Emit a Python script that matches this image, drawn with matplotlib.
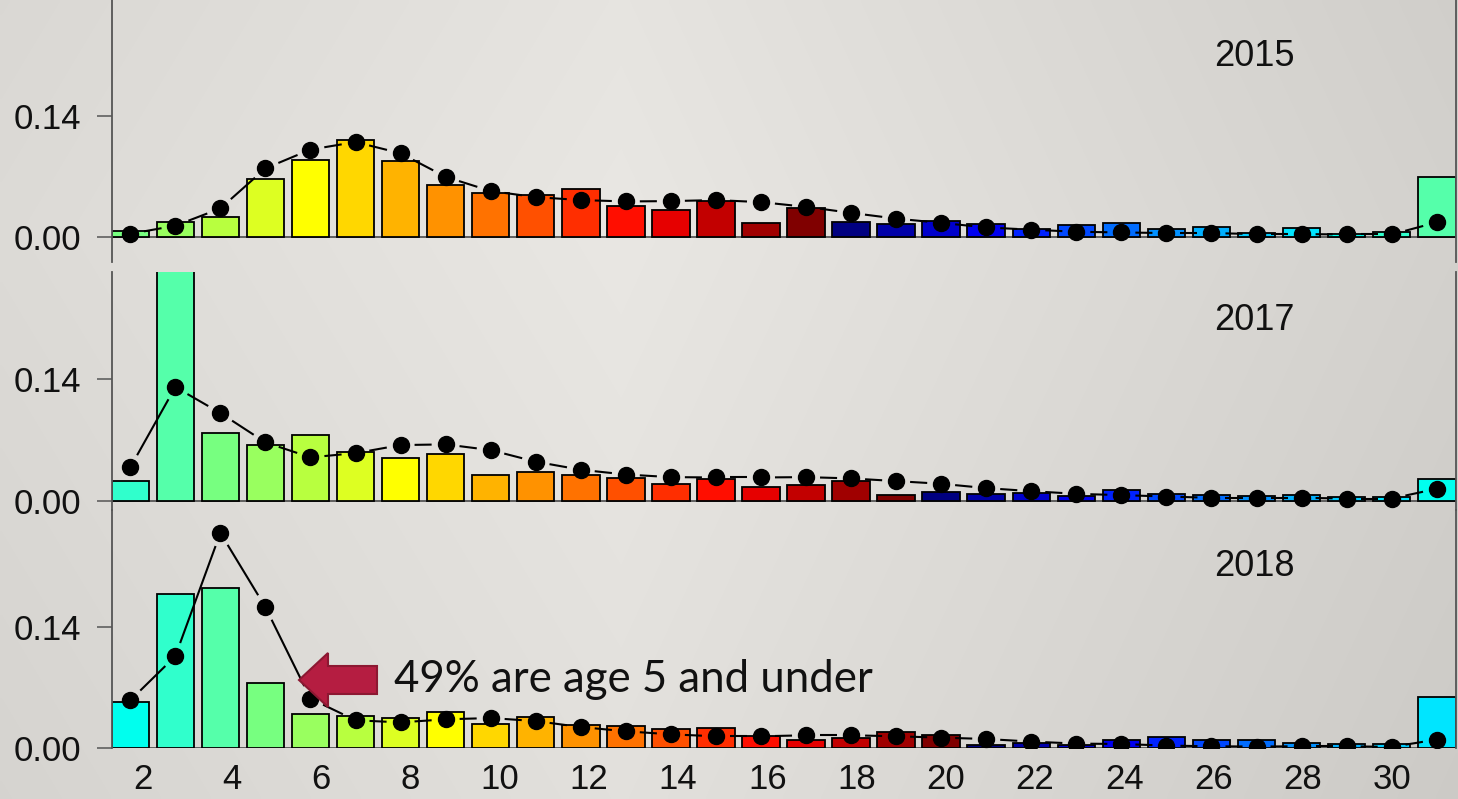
import numpy as np
import matplotlib
matplotlib.use("Agg")
import matplotlib.pyplot as plt
from matplotlib.patches import Polygon

# ---------------- data ----------------
ages = list(range(2, 32))
tick_ages = list(range(2, 31, 2))
years = [2015, 2017, 2018]

bars_2015 = [0.0068, 0.0177, 0.0236, 0.067, 0.089, 0.1126, 0.0877, 0.0605, 0.0515, 0.049,
             0.056, 0.0364, 0.0317, 0.0418, 0.0166, 0.034, 0.0173, 0.0158, 0.0184, 0.0158,
             0.0096, 0.0142, 0.0166, 0.0096, 0.0114, 0.005, 0.0103, 0.0033, 0.0056, 0.0698]
points_2015 = [0.004, 0.0134, 0.0333, 0.0796, 0.1013, 0.110, 0.097, 0.0698, 0.0534, 0.0464,
               0.043, 0.0414, 0.0418, 0.043, 0.0406, 0.0352, 0.0282, 0.0216, 0.0166, 0.0114,
               0.0088, 0.0064, 0.0056, 0.0049, 0.0049, 0.0037, 0.0037, 0.0033, 0.0033, 0.0173]

bars_2017 = [0.0228, 0.30, 0.0779, 0.064, 0.0752, 0.0556, 0.0494, 0.0532, 0.030, 0.0332,
             0.0297, 0.0263, 0.0185, 0.0247, 0.016, 0.0174, 0.0228, 0.0069, 0.010, 0.0077,
             0.0089, 0.005, 0.012, 0.0077, 0.0058, 0.005, 0.0058, 0.0039, 0.0039, 0.0251]
points_2017 = [0.0382, 0.131, 0.101, 0.0671, 0.0498, 0.0547, 0.064, 0.0648, 0.0582, 0.0448,
               0.0355, 0.030, 0.027, 0.0266, 0.0266, 0.027, 0.0255, 0.0224, 0.0193, 0.0143,
               0.0108, 0.0077, 0.0062, 0.0046, 0.0031, 0.0031, 0.0031, 0.0023, 0.0023, 0.0135]

bars_2018 = [0.0527, 0.1776, 0.1842, 0.0754, 0.0392, 0.0369, 0.0346, 0.0412, 0.0273, 0.0354,
             0.027, 0.025, 0.0216, 0.0235, 0.0135, 0.0089, 0.0112, 0.0189, 0.0147, 0.0035,
             0.0058, 0.0039, 0.0092, 0.0127, 0.0097, 0.0097, 0.0058, 0.0046, 0.005, 0.0593]
points_2018 = [0.055, 0.106, 0.2484, 0.1626, 0.057, 0.032, 0.0296, 0.0331, 0.0346, 0.0311,
               0.0242, 0.0193, 0.0158, 0.0135, 0.0135, 0.0147, 0.0147, 0.0135, 0.012, 0.0104,
               0.0074, 0.0051, 0.0046, 0.0028, 0.002, 0.0017, 0.002, 0.002, 0.0013, 0.0097]

yticks = [0.0, 0.14]
ytick_labels = ["0.00", "0.14"]
annotation = "49% are age 5 and under"

# cohort colour cycle (index 0 = cohort 2017, going back one year per entry)
cohort_colors = ["#00E5FF", "#00FFEE", "#30FFCC", "#55FFAA", "#77FF80", "#99FF5F",
                 "#B8FF3F", "#DDFF22", "#FFFF00", "#FFD700", "#FFB300", "#FF9200",
                 "#FF7200", "#FF5000", "#FF2E00", "#FF0E00", "#E60000", "#C20000",
                 "#A00000", "#800000", "#000080", "#0000A8", "#0000CC", "#0000F0",
                 "#0022FF", "#0048FF", "#006CFF", "#0090FF", "#00B0FF", "#00CCFF"]

series = [(bars_2015, points_2015), (bars_2017, points_2017), (bars_2018, points_2018)]

# ---------------- layout ----------------
W, H = 1458, 799
fig = plt.figure(figsize=(W / 100, H / 100), dpi=100)

# background gradient
gy, gx = np.mgrid[0:H:4, 0:W:4]
cx, cy = 620, 230
dx = gx - cx
dark = np.where(dx > 0, 0.026 * dx, 0.020 * (-dx)) + 0.012 * np.abs(gy - cy)
base = np.array([233, 231, 227], dtype=float)
img = np.clip((base[None, None, :] - dark[..., None]) / 255.0, 0, 1)
bg = fig.add_axes([0, 0, 1, 1], zorder=-10)
bg.imshow(img, extent=[0, 1, 0, 1], aspect="auto", interpolation="bilinear")
bg.axis("off")

left_px, right_px = 111.5, 1455.5
bar_w = 1 / 1.2
xlim = (2 - bar_w / 2, 31 + bar_w / 2)
px_per_unit = 866.0
# (top px, bottom px, zero px)
panels = [(0.0, 262.0, 237.3), (271.7, 510.0, 500.5), (510.0, 748.0, 748.0)]
year_label_baseline = [65.5, 329.5, 575.7]

SPINE = "#555555"
tick_font = ["Liberation Sans", "DejaVu Sans"]

for i, ((top, bot, zero), (bars, pts), yr) in enumerate(zip(panels, series, years)):
    ax = fig.add_axes([left_px / W, 1 - bot / H, (right_px - left_px) / W, (bot - top) / H])
    ax.set_facecolor("none")
    ax.set_xlim(*xlim)
    ax.set_ylim(-(bot - zero) / px_per_unit, (zero - top) / px_per_unit)

    colors = [cohort_colors[(2017 - (yr - a)) % 30] for a in ages]
    ax.bar(ages, bars, width=bar_w, color=colors, edgecolor="black", linewidth=1.3, zorder=2)

    # type="b" style: segments trimmed around the points
    disp = ax.transData.transform(np.column_stack([ages, pts]))
    inv = ax.transData.inverted()
    gap = 14.0
    for p0, p1 in zip(disp[:-1], disp[1:]):
        d = p1 - p0
        L = np.hypot(*d)
        if L > 2 * gap:
            u = d / L
            q = inv.transform(np.array([p0 + u * gap, p1 - u * gap]))
            ax.plot(q[:, 0], q[:, 1], color="black", lw=1.5, zorder=3, solid_capstyle="butt")
    ax.plot(ages, pts, linestyle="none", marker="o", markersize=11.5, color="black", zorder=4)

    ax.axhline(0, color=SPINE, lw=1.3, zorder=1.5)

    for s in ["top", "bottom"]:
        ax.spines[s].set_visible(False)
    for s in ["left", "right"]:
        ax.spines[s].set_color(SPINE)
        ax.spines[s].set_linewidth(1.3)

    ax.set_yticks(yticks)
    ax.set_yticklabels(ytick_labels, fontfamily=tick_font)
    ax.tick_params(axis="y", direction="out", length=10.5, width=1.1, color=SPINE,
                   labelsize=25, pad=11.5, labelcolor="#111111")
    if i == 2:
        tick_pos = [2.282 + (a - 2) * (1 - 0.282 / 28) for a in tick_ages]
        ax.set_xticks(tick_pos)
        ax.set_xticklabels([str(a) for a in tick_ages], fontfamily=tick_font)
        ax.tick_params(axis="x", length=0, labelsize=25, pad=10.5, labelcolor="#111111")
    else:
        ax.set_xticks([])

    fig.text(1254 / W, 1 - year_label_baseline[i] / H, str(yr), ha="center", va="baseline",
             fontsize=26, family=tick_font, color="#111111")

# annotation arrow (pixel geometry -> figure fraction)
arrow_px = [(299, 680), (328, 653), (328, 666), (377, 666), (377, 694), (328, 694), (328, 707)]
arrow = Polygon([(x / W, 1 - y / H) for x, y in arrow_px], closed=True,
                transform=fig.transFigure, facecolor="#B51D41", edgecolor="#8C1832",
                linewidth=1.5, zorder=20)
fig.add_artist(arrow)

fig.text(394 / W, 1 - 692 / H, annotation, ha="left", va="baseline", fontsize=31.5,
         family=["Lato", "DejaVu Sans"], color="#111111", zorder=21)

fig.savefig("out.png", dpi=100)
